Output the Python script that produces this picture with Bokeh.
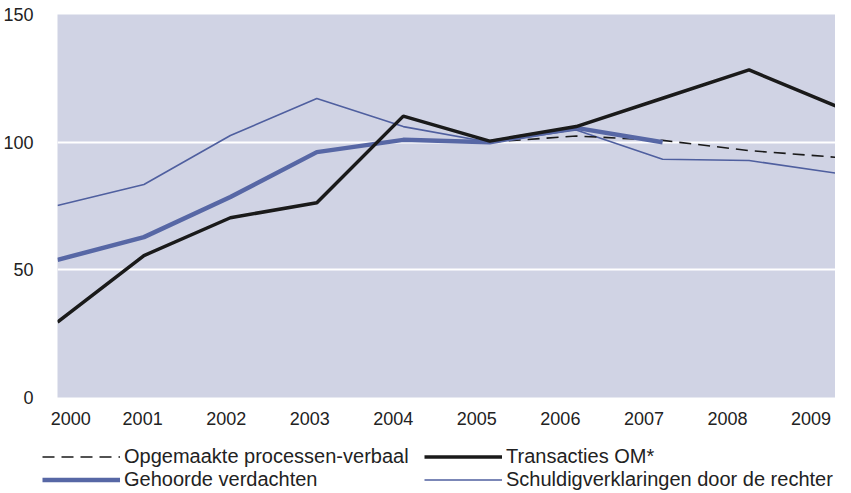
from bokeh.plotting import figure
from bokeh.layouts import column
from bokeh.models import (Range1d, LinearAxis, FixedTicker, Legend, LegendItem)
from bokeh.embed import file_html
from bokeh.resources import INLINE

# ---- data ----
years = [2000, 2001, 2002, 2003, 2004, 2005, 2006, 2007, 2008, 2009]
schuldig = [75.2, 83.4, 102.6, 117.1, 106.1, 100.0, 104.8, 93.3, 92.8, 87.9]
gehoorde_years = [2000, 2001, 2002, 2003, 2004, 2005, 2006, 2007]
gehoorde = [53.9, 62.8, 78.5, 96.1, 100.9, 100.0, 105.6, 100.0]
transacties = [29.5, 55.6, 70.4, 76.3, 110.2, 100.4, 106.1, 117.2, 128.3, 114.2]
opgemaakte_years = [2005, 2006, 2007, 2008, 2009]
opgemaakte = [100.0, 102.4, 100.7, 96.7, 94.1]
y_ticks = [0, 50, 100, 150]
grid_ticks = [50, 100]

labels = {
    "opg": "Opgemaakte processen-verbaal",
    "geh": "Gehoorde verdachten",
    "tra": "Transacties OM*",
    "sch": "Schuldigverklaringen door de rechter",
}
series = {
    "sch": (years, schuldig),
    "opg": (opgemaakte_years, opgemaakte),
    "geh": (gehoorde_years, gehoorde),
    "tra": (years, transacties),
}

# ---- styles ----
BG = "#d0d3e4"
BLUE_THICK = "#5767a5"
BLUE_THIN = "#4f5f9f"
BLACK = "#1a1a1a"
TXT = "#222222"
FONT = "Liberation Sans"

styles = {
    "sch": dict(line_color=BLUE_THIN, line_width=1.6),
    "opg": dict(line_color=BLACK, line_width=1.6, line_dash="12 7"),
    "geh": dict(line_color=BLUE_THICK, line_width=4.5),
    "tra": dict(line_color=BLACK, line_width=3.5),
}

p = figure(width=835, height=440, output_backend="svg", toolbar_location=None,
           x_range=Range1d(years[0], years[-1]), y_range=Range1d(0, 150),
           x_axis_location=None, min_border_left=49, min_border_right=0,
           min_border_top=14, min_border_bottom=43)
p.frame_align = False
p.background_fill_color = BG
p.border_fill_color = "white"
p.outline_line_color = None

# label axis on its own range so tick labels sit where the reference prints them
p.extra_x_ranges = {"lab": Range1d(1999.981, 2009.293)}
first_pos = 2000.14
lab_axis = LinearAxis(x_range_name="lab",
                      ticker=FixedTicker(ticks=[first_pos] + years[1:]),
                      major_label_overrides={first_pos: str(years[0])})
lab_axis.axis_line_color = None
lab_axis.major_tick_line_color = None
lab_axis.minor_tick_line_color = None
lab_axis.major_label_text_font = FONT
lab_axis.major_label_text_font_size = "18px"
lab_axis.major_label_text_color = TXT
lab_axis.major_label_standoff = 8
p.add_layout(lab_axis, "below")

yax = p.yaxis[0]
yax.ticker = FixedTicker(ticks=y_ticks)
yax.axis_line_color = None
yax.major_tick_line_color = None
yax.minor_tick_line_color = None
yax.major_label_text_font = FONT
yax.major_label_text_font_size = "18px"
yax.major_label_text_color = TXT
yax.major_label_standoff = 18

p.xgrid.visible = False
p.ygrid.ticker = FixedTicker(ticks=grid_ticks)
p.ygrid.grid_line_color = "white"
p.ygrid.grid_line_width = 2

for key in ["sch", "opg", "geh", "tra"]:
    xs, ys = series[key]
    p.line(xs, ys, **styles[key])

# ---- legend strip below the chart (its lines lie outside its view) ----
q = figure(width=835, height=52, output_backend="svg", toolbar_location=None,
           x_range=Range1d(0, 1), y_range=Range1d(0, 1),
           x_axis_location=None, y_axis_location=None,
           min_border_left=0, min_border_right=0, min_border_top=0,
           min_border_bottom=0)
q.frame_align = False
q.outline_line_color = None
q.grid.visible = False
q.background_fill_color = "white"
q.border_fill_color = "white"

items = []
for key in ["opg", "geh", "tra", "sch"]:
    xs, ys = series[key]
    r = q.line(xs, ys, **styles[key])
    items.append(LegendItem(label=labels[key], renderers=[r]))

legend = Legend(items=items, orientation="vertical", nrows=2, location=(42, 1))
legend.background_fill_alpha = 0
legend.border_line_color = None
legend.padding = 0
legend.margin = 0
legend.spacing = 0
legend.glyph_width = 78
legend.glyph_height = 23
legend.label_height = 23
legend.label_width = 300
legend.label_standoff = 4
legend.label_text_font = FONT
legend.label_text_font_size = "20px"
legend.label_text_color = TXT
q.add_layout(legend, "center")

open("out.html", "w").write(file_html(column(p, q, spacing=0), INLINE))
